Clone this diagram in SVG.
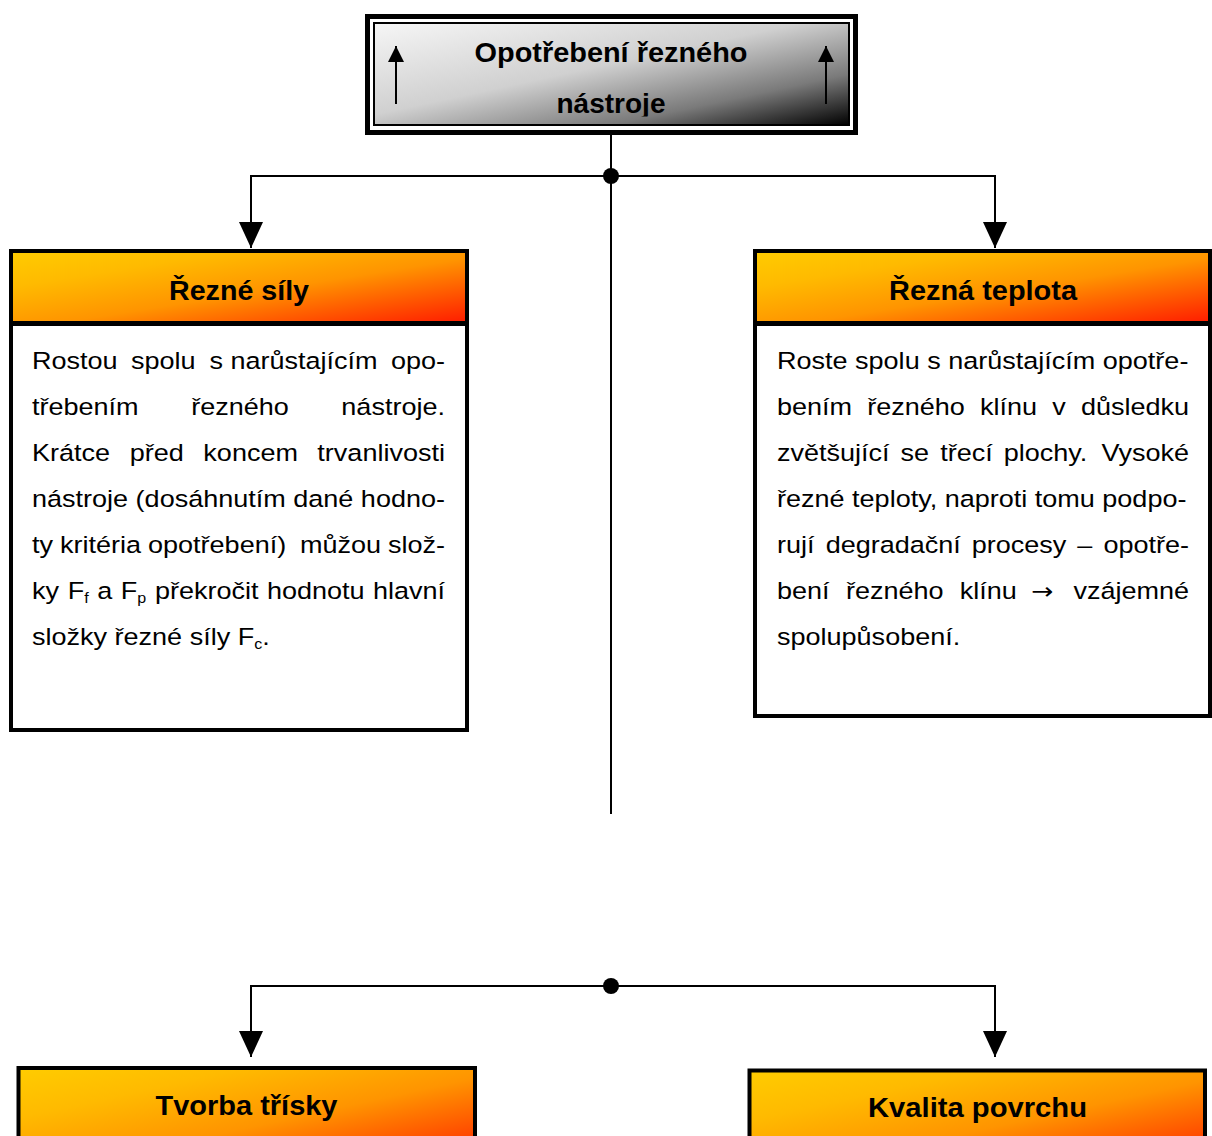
<svg xmlns="http://www.w3.org/2000/svg" width="1212" height="1136" viewBox="0 0 1212 1136">
<style>
.frame{fill:#fff;stroke:#000;stroke-width:4}
.hdr{fill:url(#hdrGrad);stroke:#000;stroke-width:4}
.div{stroke:#000;stroke-width:5}
.title{font-family:"Liberation Sans",Arial,sans-serif;font-weight:bold;font-size:27px;fill:#000;text-anchor:middle}
.body{font-family:"Liberation Sans",Arial,sans-serif;font-size:23.5px;fill:#000}
.end{text-anchor:end}
.sub{font-size:14px}
.arr{font-family:"DejaVu Sans",sans-serif;font-size:23px}
.conn{stroke:#000;stroke-width:2;fill:none}
</style>
<defs>
<linearGradient id="hdrGrad" x1="0" y1="0" x2="1" y2="1">
<stop offset="0" stop-color="#FFCC00"/>
<stop offset="0.25" stop-color="#FFBA00"/>
<stop offset="0.55" stop-color="#FF9400"/>
<stop offset="1" stop-color="#FF1A00"/>
</linearGradient>
<linearGradient id="topGrad" x1="0" y1="0" x2="1" y2="1">
<stop offset="0" stop-color="#f6f6f6"/>
<stop offset="0.45" stop-color="#d0d0d0"/>
<stop offset="0.75" stop-color="#7a7a7a"/>
<stop offset="1" stop-color="#000"/>
</linearGradient>
<marker id="bigArrow" markerUnits="userSpaceOnUse" markerWidth="28" markerHeight="28" refX="26" refY="12" orient="auto" viewBox="0 0 28 24">
<path d="M0,0 L26,12 L0,24 z" fill="#000"/>
</marker>
<marker id="smallArrow" markerUnits="userSpaceOnUse" markerWidth="18" markerHeight="18" refX="16" refY="8" orient="auto" viewBox="0 0 18 16">
<path d="M0,0 L16,8 L0,16 z" fill="#000"/>
</marker>
<clipPath id="titleClip"><rect x="374" y="23" width="475" height="93.5"/></clipPath>
</defs>

<g id="connectors">
<line class="conn" x1="611" y1="135" x2="611" y2="814"/>
<path class="conn" d="M611,176 H251 V248" marker-end="url(#bigArrow)"/>
<path class="conn" d="M611,176 H995 V248" marker-end="url(#bigArrow)"/>
<circle cx="611" cy="176" r="8" fill="#000"/>
<path class="conn" d="M611,986 H251 V1057" marker-end="url(#bigArrow)"/>
<path class="conn" d="M611,986 H995 V1057" marker-end="url(#bigArrow)"/>
<circle cx="611" cy="986" r="8" fill="#000"/>
</g>

<g id="opotrebeni">
<rect x="367.5" y="16.5" width="488" height="116" fill="#fff" stroke="#000" stroke-width="5"/>
<rect x="374" y="23" width="475" height="102" fill="url(#topGrad)" stroke="#000" stroke-width="2"/>
<line class="conn" x1="396" y1="104" x2="396" y2="46" marker-end="url(#smallArrow)"/>
<line class="conn" x1="826" y1="104" x2="826" y2="46" marker-end="url(#smallArrow)"/>
<g clip-path="url(#titleClip)">
<text class="title" x="611" y="62" textLength="273" lengthAdjust="spacingAndGlyphs">Opotřebení řezného</text>
<text class="title" x="611" y="113" textLength="109" lengthAdjust="spacingAndGlyphs">nástroje</text>
</g>
</g>

<g id="rezne-sily">
<rect class="frame" x="11" y="251" width="456" height="479"/>
<rect class="hdr" x="11" y="251" width="456" height="72.5"/>
<line class="div" x1="11" y1="323.5" x2="467" y2="323.5"/>
<text class="title" x="239" y="300" textLength="140" lengthAdjust="spacingAndGlyphs">Řezné síly</text>
<g transform="translate(32,0) scale(1.15,1)">
<text class="body" y="369"><tspan x="0">Rostou</tspan><tspan x="86.1">spolu</tspan><tspan x="154.3">s narůstajícím</tspan><tspan x="359.1" class="end">opo-</tspan></text>
<text class="body" y="415"><tspan x="0">třebením</tspan><tspan x="138.4">řezného</tspan><tspan x="359.1" class="end">nástroje.</tspan></text>
<text class="body" y="461"><tspan x="0">Krátce</tspan><tspan x="85">před</tspan><tspan x="149">koncem</tspan><tspan x="359.1" class="end">trvanlivosti</tspan></text>
<text class="body" x="0" y="507">nástroje (dosáhnutím dané hodno-</text>
<text class="body" y="553"><tspan x="0">ty</tspan><tspan x="24.3">kritéria</tspan><tspan x="100.9">opotřebení)</tspan><tspan x="233">můžou</tspan><tspan x="359.1" class="end">slož-</tspan></text>
<text class="body" y="599"><tspan x="0">ky</tspan><tspan x="31">F</tspan><tspan class="sub" dy="4">f</tspan><tspan x="56.7" dy="-4">a</tspan><tspan x="77.2">F</tspan><tspan class="sub" dy="4">p</tspan><tspan x="106.9" dy="-4">překročit</tspan><tspan x="204.3">hodnotu</tspan><tspan x="359.1" class="end">hlavní</tspan></text>
<text class="body" x="0" y="645">složky řezné síly F<tspan class="sub" dy="4">c</tspan><tspan dy="-4">.</tspan></text>
</g>
</g>

<g id="rezna-teplota">
<rect class="frame" x="755" y="251" width="455" height="465"/>
<rect class="hdr" x="755" y="251" width="455" height="72.5"/>
<line class="div" x1="755" y1="323.5" x2="1210" y2="323.5"/>
<text class="title" x="983" y="300" textLength="188" lengthAdjust="spacingAndGlyphs">Řezná teplota</text>
<g transform="translate(777,0) scale(1.15,1)">
<text class="body" x="0" y="369">Roste spolu s narůstajícím opotře-</text>
<text class="body" y="415"><tspan x="0">bením</tspan><tspan x="78.4">řezného</tspan><tspan x="176.5">klínu</tspan><tspan x="239.3">v</tspan><tspan x="358.3" class="end">důsledku</tspan></text>
<text class="body" y="461"><tspan x="0">zvětšující</tspan><tspan x="107.5">se</tspan><tspan x="141.9">třecí</tspan><tspan x="197.2">plochy.</tspan><tspan x="358.3" class="end">Vysoké</tspan></text>
<text class="body" x="0" y="507">řezné teploty, naproti tomu podpo-</text>
<text class="body" y="553"><tspan x="0">rují</tspan><tspan x="42.3">degradační</tspan><tspan x="169.3">procesy</tspan><tspan x="261.1">–</tspan><tspan x="358.3" class="end">opotře-</tspan></text>
<text class="body" y="599"><tspan x="0">bení</tspan><tspan x="59.9">řezného</tspan><tspan x="159">klínu</tspan><tspan x="221" class="arr">→</tspan><tspan x="358.3" class="end">vzájemné</tspan></text>
<text class="body" x="0" y="645">spolupůsobení.</text>
</g>
</g>

<g id="tvorba-trisky">
<rect class="hdr" x="18.5" y="1068" width="456.5" height="100"/>
<text class="title" x="246.5" y="1115" textLength="182" lengthAdjust="spacingAndGlyphs">Tvorba třísky</text>
</g>

<g id="kvalita-povrchu">
<rect class="hdr" x="749.5" y="1070.5" width="455.5" height="100"/>
<text class="title" x="977.5" y="1117" textLength="219" lengthAdjust="spacingAndGlyphs">Kvalita povrchu</text>
</g>
</svg>
